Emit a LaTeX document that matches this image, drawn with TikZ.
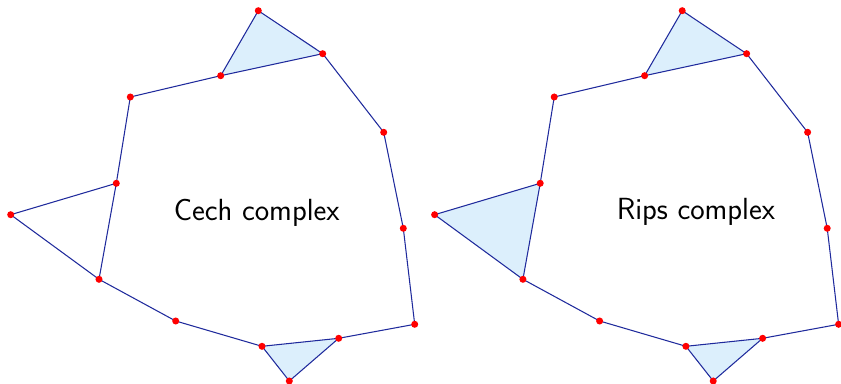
\documentclass[tikz,border=0pt]{standalone}
\usepackage{tikz}
\definecolor{edgeblue}{HTML}{1F2A9C}
\definecolor{cellfill}{HTML}{DCEFFC}
\definecolor{vertexred}{HTML}{FF0000}

% the same point cloud is used for both complexes
\newcommand{\cloudpoints}[1]{%
  \coordinate (#1a) at (258.3,10.7);
  \coordinate (#1b) at (322.7,53.7);
  \coordinate (#1c) at (220.7,75.7);
  \coordinate (#1d) at (130.3,97);
  \coordinate (#1e) at (383.7,132.3);
  \coordinate (#1f) at (116.3,183.3);
  \coordinate (#1g) at (10.7,214.7);
  \coordinate (#1h) at (403.3,228.3);
  \coordinate (#1i) at (99,279.3);
  \coordinate (#1j) at (175.7,321);
  \coordinate (#1k) at (414.7,324.3);
  \coordinate (#1l) at (338.7,338.3);
  \coordinate (#1m) at (262,346.3);
  \coordinate (#1n) at (289.3,381);
}
\newcommand{\cloudedges}[1]{%
  \draw[edgeblue,line width=0.6pt,line join=round]
    (#1a) -- (#1b) -- (#1c) -- cycle
    (#1c) -- (#1d) -- (#1f) -- (#1g) -- (#1i) -- (#1j) -- (#1m) -- (#1l) -- (#1k) -- (#1h) -- (#1e) -- (#1b)
    (#1f) -- (#1i)
    (#1m) -- (#1n) -- (#1l);
}
\newcommand{\clouddots}[1]{%
  \foreach \p in {a,b,c,d,e,f,g,h,i,j,k,l,m,n}
    \fill[vertexred] (#1\p) circle (2pt);
}

\begin{document}
\begin{tikzpicture}[x=0.02cm,y=-0.02cm]
  \useasboundingbox (0,0) rectangle (841,384);
  % Cech complex
  \cloudpoints{c}
  \fill[cellfill] (ca) -- (cb) -- (cc) -- cycle;
  \fill[cellfill] (cm) -- (cl) -- (cn) -- cycle;
  \cloudedges{c}
  \clouddots{c}
  \node[anchor=base,font=\sffamily\fontsize{17.4}{21}\selectfont] (cechlabel) at (256.7,221) {Cech complex};
  % Rips complex
  \begin{scope}[xshift=8.48cm]
    \cloudpoints{r}
    \fill[cellfill] (ra) -- (rb) -- (rc) -- cycle;
    \fill[cellfill] (rm) -- (rl) -- (rn) -- cycle;
    \fill[cellfill] (rf) -- (rg) -- (ri) -- cycle;
    \cloudedges{r}
    \clouddots{r}
    \node[anchor=base,font=\sffamily\fontsize{17.4}{21}\selectfont] (ripslabel) at (272,220) {Rips complex};
  \end{scope}
\end{tikzpicture}
\end{document}
